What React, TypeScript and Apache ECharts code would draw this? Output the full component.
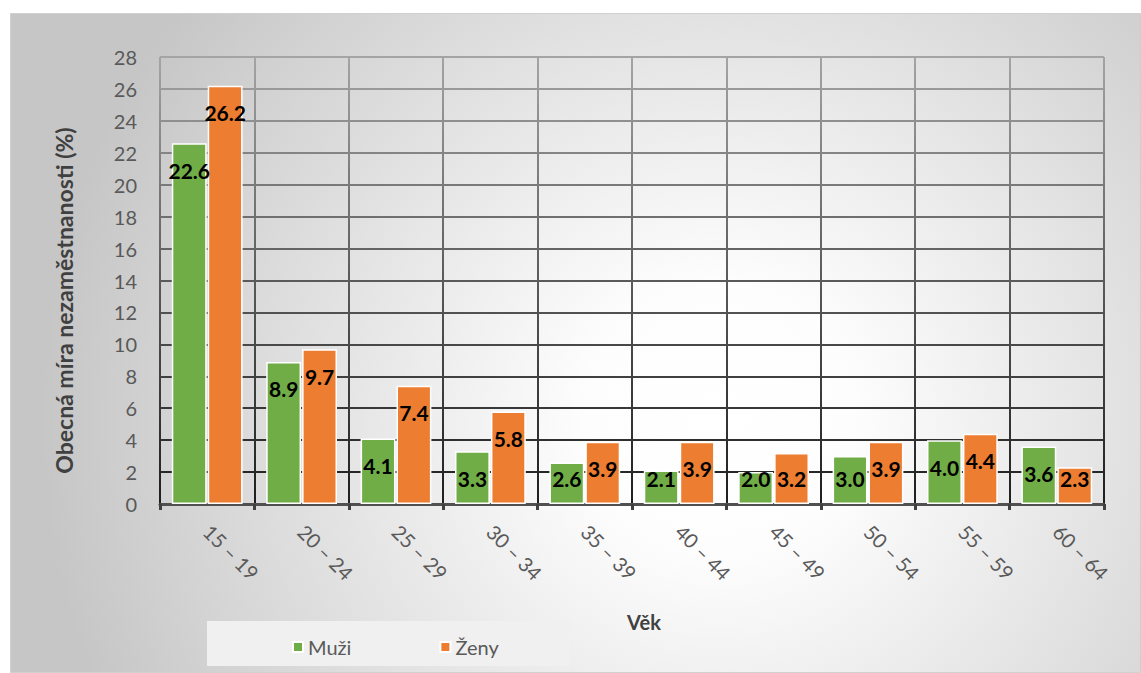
import React, { useEffect, useRef } from "react";
import * as echarts from "echarts";

const categories = ["15 – 19", "20 – 24", "25 – 29", "30 – 34", "35 – 39", "40 – 44", "45 – 49", "50 – 54", "55 – 59", "60 – 64"];
const men = [22.6, 8.9, 4.1, 3.3, 2.6, 2.1, 2.0, 3.0, 4.0, 3.6];
const women = [26.2, 9.7, 7.4, 5.8, 3.9, 3.9, 3.2, 3.9, 4.4, 2.3];
const seriesNames = ["Muži", "Ženy"];
const yTicks = { min: 0, max: 28, interval: 2 };

const W = 1141;
const H = 673;
const GRID = { left: 160, right: 37, top: 57, bottom: 169 };
const FONT = "Lato";

export default function App() {
  const ref = useRef<HTMLDivElement>(null);
  useEffect(() => {
    if (!ref.current) return;
    const chart = echarts.init(ref.current, null, { renderer: "svg" });
    const plotH = H - GRID.top - GRID.bottom;
    const pxPerUnit = plotH / (yTicks.max - yTicks.min);

    const mkData = (vals: number[]) =>
      vals.map((v) => {
        const h = v * pxPerUnit;
        const c = Math.min(27, h - 26);
        return {
          value: v,
          label: { position: ["50%", c] },
        };
      });

    const gridColor = new echarts.graphic.LinearGradient(
      0, GRID.top, 0, H - GRID.bottom,
      [
        { offset: 0, color: "#a4a4a4" },
        { offset: 0.5, color: "#5a5a5a" },
        { offset: 1, color: "#1e1e1e" },
      ],
      true
    );

    const labelCfg = {
      show: true,
      align: "center",
      verticalAlign: "middle",
      color: "#000",
      fontFamily: FONT,
      fontWeight: "bold",
      fontSize: 21,
      formatter: (p: any) => Number(p.value).toFixed(1),
    };

    chart.setOption({
      animation: false,
      textStyle: { fontFamily: FONT },
      graphic: [
        {
          type: "rect",
          z: -10,
          shape: { x: 10.5, y: 13.5, width: W - 11, height: H - 14 },
          style: {
            fill: new echarts.graphic.RadialGradient(
              720, 420, 680,
              [
                { offset: 0, color: "#ffffff" },
                { offset: 0.2, color: "#fdfdfd" },
                { offset: 1, color: "#c6c6c6" },
              ],
              true
            ),
            stroke: "#d0d0d0",
            lineWidth: 1,
          },
        },
        {
          type: "rect",
          z: -5,
          shape: { x: 207, y: 621, width: 363, height: 45 },
          style: { fill: "#f0f0f0" },
        },
      ],
      legend: {
        data: seriesNames,
        left: 287,
        top: 632,
        itemWidth: 10,
        itemHeight: 10,
        itemGap: 88,
        icon: "rect",
        textStyle: { color: "#595959", fontSize: 20, fontFamily: FONT },
      },
      grid: { ...GRID, containLabel: false },
      xAxis: {
        type: "category",
        data: categories,
        name: "Věk",
        nameLocation: "middle",
        nameGap: 108,
        nameTextStyle: {
          color: "#404040",
          fontWeight: "bold",
          fontSize: 20,
          fontFamily: FONT,
          padding: [0, 0, 0, 24],
        },
        axisLine: { show: true, lineStyle: { color: "#505050", width: 3 } },
        axisTick: { show: true, length: 6, lineStyle: { color: "#404040", width: 3 } },
        axisLabel: {
          rotate: -45,
          margin: 24,
          color: "#595959",
          fontSize: 20,
          fontFamily: FONT,
          interval: 0,
        },
        splitLine: { show: true, lineStyle: { color: gridColor, width: 2 } },
      },
      yAxis: {
        type: "value",
        min: yTicks.min,
        max: yTicks.max,
        interval: yTicks.interval,
        name: "Obecná míra nezaměstnanosti (%)",
        nameLocation: "middle",
        nameGap: 85,
        nameTextStyle: {
          color: "#404040",
          fontWeight: "bold",
          fontSize: 23,
          fontFamily: FONT,
          padding: [0, 40, 0, 0],
        },
        axisLine: { show: false },
        axisTick: { show: false },
        axisLabel: { margin: 23, color: "#595959", fontSize: 20, fontFamily: FONT },
        splitLine: { show: true, lineStyle: { color: gridColor, width: 2 } },
      },
      series: [
        {
          name: seriesNames[0],
          type: "bar",
          data: mkData(men),
          barCategoryGap: "25%",
          barGap: "3%",
          itemStyle: { color: "#70ad47", borderColor: "#ffffff", borderWidth: 1.5 },
          label: labelCfg,
        },
        {
          name: seriesNames[1],
          type: "bar",
          data: mkData(women),
          barCategoryGap: "25%",
          barGap: "3%",
          itemStyle: { color: "#ed7d31", borderColor: "#ffffff", borderWidth: 1.5 },
          label: labelCfg,
        },
      ],
    });
    return () => chart.dispose();
  }, []);
  return (
    <div
      ref={ref}
      style={{ position: "fixed", left: 0, top: 0, width: W, height: H, background: "#ffffff" }}
    />
  );
}
